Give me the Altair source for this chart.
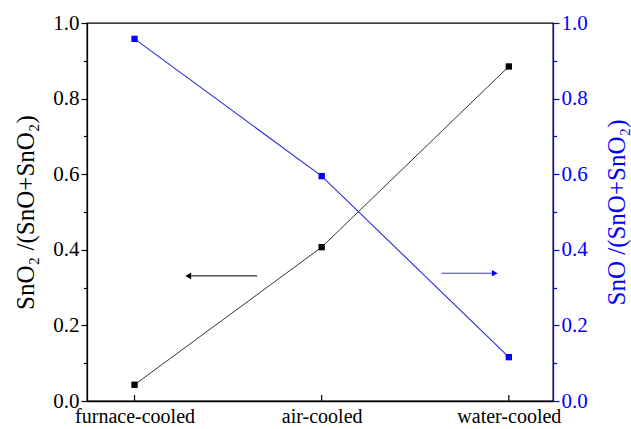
import json
import altair as alt
import pandas as pd

# ---- data ----
categories = ["furnace-cooled", "air-cooled", "water-cooled"]
x_idx = [0, 1, 2]
sno2_frac = [0.043, 0.407, 0.885]   # left axis (black)
sno_frac = [0.958, 0.595, 0.116]    # right axis (blue)

# annotation arrows (data coordinates): start x, end x (head), y
black_arrow = {"x0": [0.655], "x1": [0.287], "y": [0.331]}
blue_arrow = {"x0": [1.640], "x1": [1.925], "y": [0.338]}

FONT = "Liberation Serif"
BLUE = "#0000ff"

df = pd.DataFrame({"x": x_idx, "cat": categories, "sno2": sno2_frac, "sno": sno_frac})
dfa_black = pd.DataFrame(black_arrow)
dfa_blue = pd.DataFrame(blue_arrow)

W, H = 466, 378

xscale = alt.Scale(domain=[-0.254, 2.236], nice=False, zero=False)
xaxis = alt.Axis(
    values=x_idx,
    labelExpr=json.dumps(categories) + "[round(datum.value)]",
    ticks=False, domainColor="black", domainWidth=1.3,
    labelPadding=5, labelFont=FONT, labelFontSize=20, labelColor="black",
    labelFlush=False, title=None, grid=False,
)

yscale = alt.Scale(domain=[0, 1], nice=False, zero=False)
yvals = [round(i * 0.1, 1) for i in range(11)]
label_expr = "round(datum.value*10)%2==0 ? format(datum.value, '.1f') : ''"
tick_size = {"condition": {"test": "round(datum.value*10)%2==1", "value": 3.5}, "value": 6}


def yaxis(orient, color, title, title_x):
    return alt.Axis(
        orient=orient, values=yvals, labelExpr=label_expr,
        tickSize=tick_size, tickColor=color, tickWidth=1.2,
        domainColor=color, domainWidth=1.3,
        labelColor=color, labelFont=FONT, labelFontSize=21, labelPadding=2,
        title=title, titleColor=color, titleFont=FONT, titleFontSize=25,
        titleFontWeight="normal", titleAngle=-90, titleX=title_x, titleY=H / 2,
        titleAlign="center", titleBaseline="middle", grid=False,
    )


left_axis = yaxis("left", "black", "SnO₂ /(SnO+SnO₂)", -62)
right_axis = yaxis("right", BLUE, "SnO /(SnO+SnO₂)", 63)

# ---- black series (left axis) ----
bb = alt.Chart(df).encode(
    x=alt.X("x:Q", scale=xscale, axis=xaxis),
    y=alt.Y("sno2:Q", scale=yscale, axis=left_axis),
)
black_line = bb.mark_line(color="#333333", strokeWidth=1)
black_pts = bb.mark_point(shape="square", filled=True, size=40, color="black", opacity=1)
xticks = alt.Chart(df).mark_rule(color="black", strokeWidth=1.2).encode(
    x=alt.X("x:Q", scale=xscale, axis=xaxis),
    y=alt.value(H), y2=alt.value(H - 6),
)
black_rule = alt.Chart(dfa_black).mark_rule(color="black", strokeWidth=1).encode(
    x=alt.X("x0:Q", scale=xscale, axis=xaxis), x2="x1:Q",
    y=alt.Y("y:Q", scale=yscale, axis=left_axis),
)
black_head = alt.Chart(dfa_black).mark_point(
    shape="triangle-left", filled=True, size=45, color="black", opacity=1
).encode(
    x=alt.X("x1:Q", scale=xscale, axis=xaxis),
    y=alt.Y("y:Q", scale=yscale, axis=left_axis),
)
black_group = alt.layer(black_line, black_pts, xticks, black_rule, black_head)

# ---- blue series (right axis) ----
ub = alt.Chart(df).encode(
    x=alt.X("x:Q", scale=xscale, axis=xaxis),
    y=alt.Y("sno:Q", scale=yscale, axis=right_axis),
)
blue_line = ub.mark_line(color="#2a2ae0", strokeWidth=1.1)
blue_pts = ub.mark_point(shape="square", filled=True, size=40, color=BLUE, opacity=1)
blue_rule = alt.Chart(dfa_blue).mark_rule(color="#3a3ae8", strokeWidth=1).encode(
    x=alt.X("x0:Q", scale=xscale, axis=xaxis), x2="x1:Q",
    y=alt.Y("y:Q", scale=yscale, axis=right_axis),
)
blue_head = alt.Chart(dfa_blue).mark_point(
    shape="triangle-right", filled=True, size=45, color=BLUE, opacity=1
).encode(
    x=alt.X("x1:Q", scale=xscale, axis=xaxis),
    y=alt.Y("y:Q", scale=yscale, axis=right_axis),
)
blue_group = alt.layer(blue_line, blue_pts, blue_rule, blue_head)

chart = (
    alt.layer(black_group, blue_group)
    .resolve_scale(y="independent")
    .properties(
        width=W, height=H,
        autosize=alt.AutoSizeParams(type="none"),
        padding={"left": 87, "top": 23, "right": 78, "bottom": 28},
        background="white",
    )
    .configure_view(stroke="black", strokeWidth=1.3)
    .configure_axis(grid=False)
)

chart.save("out.html", embed_options={"renderer": "svg", "actions": False})
